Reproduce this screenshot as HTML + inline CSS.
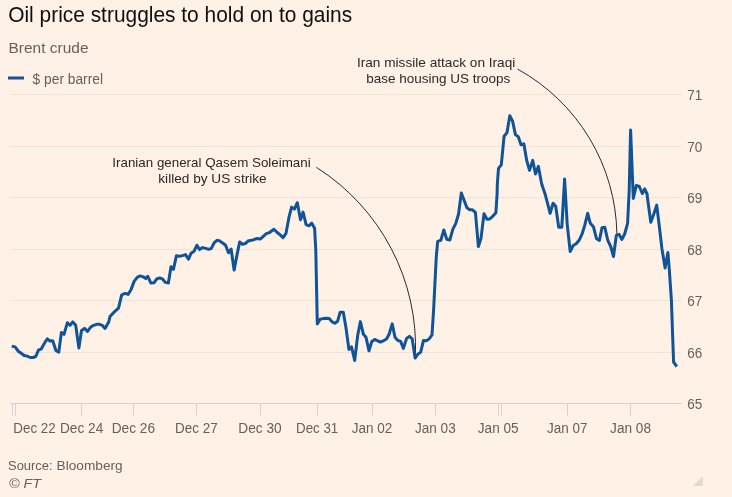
<!DOCTYPE html>
<html lang="en"><head><meta charset="utf-8"><title>Oil price struggles to hold on to gains</title>
<style>
html,body{margin:0;padding:0;background:#fff1e5;}
body{width:732px;height:497px;overflow:hidden;}
svg{display:block;font-family:"Liberation Sans",sans-serif;}
.t{fill:#66605c;font-size:14px;}
.a{fill:#2b2826;font-size:13.5px;}
</style></head><body>
<svg width="732" height="497" viewBox="0 0 732 497">
<rect width="732" height="497" fill="#fff1e5"/>
<text x="8.2" y="22.3" font-size="21.5" fill="#111010" textLength="344" lengthAdjust="spacingAndGlyphs">Oil price struggles to hold on to gains</text>
<text x="8.5" y="52.8" font-size="15.2" fill="#66605c" textLength="80" lengthAdjust="spacingAndGlyphs">Brent crude</text>
<rect x="8" y="76.5" width="16" height="3" fill="#0f5499"/>
<text x="32.6" y="83.8" class="t" textLength="70.4" lengthAdjust="spacingAndGlyphs">$ per barrel</text>
<line x1="10" x2="682" y1="94.5" y2="94.5" stroke="#f0e4da" stroke-width="1"/>
<text x="687.3" y="100.0" class="t" textLength="15" lengthAdjust="spacingAndGlyphs">71</text>
<line x1="10" x2="682" y1="146.5" y2="146.5" stroke="#f0e4da" stroke-width="1"/>
<text x="687.3" y="152.0" class="t" textLength="15" lengthAdjust="spacingAndGlyphs">70</text>
<line x1="10" x2="682" y1="197.5" y2="197.5" stroke="#f0e4da" stroke-width="1"/>
<text x="687.3" y="203.0" class="t" textLength="15" lengthAdjust="spacingAndGlyphs">69</text>
<line x1="10" x2="682" y1="249.5" y2="249.5" stroke="#f0e4da" stroke-width="1"/>
<text x="687.3" y="255.0" class="t" textLength="15" lengthAdjust="spacingAndGlyphs">68</text>
<line x1="10" x2="682" y1="300.5" y2="300.5" stroke="#f0e4da" stroke-width="1"/>
<text x="687.3" y="306.0" class="t" textLength="15" lengthAdjust="spacingAndGlyphs">67</text>
<line x1="10" x2="682" y1="352.5" y2="352.5" stroke="#f0e4da" stroke-width="1"/>
<text x="687.3" y="358.0" class="t" textLength="15" lengthAdjust="spacingAndGlyphs">66</text>
<line x1="10" x2="682" y1="403.5" y2="403.5" stroke="#d9cfcc" stroke-width="1"/>
<text x="687.3" y="409.0" class="t" textLength="15" lengthAdjust="spacingAndGlyphs">65</text>
<line x1="12.5" x2="12.5" y1="403.5" y2="415.5" stroke="#d9cfcc" stroke-width="1"/>
<line x1="15.5" x2="15.5" y1="403.5" y2="415.5" stroke="#d9cfcc" stroke-width="1"/>
<line x1="81.5" x2="81.5" y1="403.5" y2="415.5" stroke="#d9cfcc" stroke-width="1"/>
<line x1="133.5" x2="133.5" y1="403.5" y2="415.5" stroke="#d9cfcc" stroke-width="1"/>
<line x1="196.5" x2="196.5" y1="403.5" y2="415.5" stroke="#d9cfcc" stroke-width="1"/>
<line x1="260.5" x2="260.5" y1="403.5" y2="415.5" stroke="#d9cfcc" stroke-width="1"/>
<line x1="317.5" x2="317.5" y1="403.5" y2="415.5" stroke="#d9cfcc" stroke-width="1"/>
<line x1="372.5" x2="372.5" y1="403.5" y2="415.5" stroke="#d9cfcc" stroke-width="1"/>
<line x1="435.5" x2="435.5" y1="403.5" y2="415.5" stroke="#d9cfcc" stroke-width="1"/>
<line x1="498.5" x2="498.5" y1="403.5" y2="415.5" stroke="#d9cfcc" stroke-width="1"/>
<line x1="501.5" x2="501.5" y1="403.5" y2="415.5" stroke="#d9cfcc" stroke-width="1"/>
<line x1="567.5" x2="567.5" y1="403.5" y2="415.5" stroke="#d9cfcc" stroke-width="1"/>
<line x1="630.5" x2="630.5" y1="403.5" y2="415.5" stroke="#d9cfcc" stroke-width="1"/>
<text x="13.3" y="432.8" class="t" textLength="42.4" lengthAdjust="spacingAndGlyphs">Dec 22</text>
<text x="60" y="432.8" class="t" textLength="43.3" lengthAdjust="spacingAndGlyphs">Dec 24</text>
<text x="111.7" y="432.8" class="t" textLength="43.3" lengthAdjust="spacingAndGlyphs">Dec 26</text>
<text x="175" y="432.8" class="t" textLength="42.7" lengthAdjust="spacingAndGlyphs">Dec 27</text>
<text x="238.3" y="432.8" class="t" textLength="43.4" lengthAdjust="spacingAndGlyphs">Dec 30</text>
<text x="296" y="432.8" class="t" textLength="42.3" lengthAdjust="spacingAndGlyphs">Dec 31</text>
<text x="351.7" y="432.8" class="t" textLength="40.6" lengthAdjust="spacingAndGlyphs">Jan 02</text>
<text x="415" y="432.8" class="t" textLength="40.7" lengthAdjust="spacingAndGlyphs">Jan 03</text>
<text x="477.8" y="432.8" class="t" textLength="40.9" lengthAdjust="spacingAndGlyphs">Jan 05</text>
<text x="547" y="432.8" class="t" textLength="40.5" lengthAdjust="spacingAndGlyphs">Jan 07</text>
<text x="610.1" y="432.8" class="t" textLength="40.9" lengthAdjust="spacingAndGlyphs">Jan 08</text>
<path d="M316.4 167.4A213 213 0 0 1 415.4 356.5" fill="none" stroke="#262a33" stroke-width="1"/>
<path d="M517.6 69.1A192 192 0 0 1 616.9 234" fill="none" stroke="#262a33" stroke-width="1"/>
<text x="112.3" y="166.6" class="a" textLength="198.4" lengthAdjust="spacingAndGlyphs">Iranian general Qasem Soleimani</text>
<text x="158.3" y="182.6" class="a" textLength="108.4" lengthAdjust="spacingAndGlyphs">killed by US strike</text>
<text x="356.9" y="67" class="a" textLength="158.4" lengthAdjust="spacingAndGlyphs">Iran missile attack on Iraqi</text>
<text x="366.2" y="82.8" class="a" textLength="144.1" lengthAdjust="spacingAndGlyphs">base housing US troops</text>
<path d="M11.7 346.1 15.1 346.9 18.5 351.5 21.1 353.1 24.1 355.5 27.2 356.1 30.2 357.5 33.2 357.5 35.8 356.5 38.6 349.9 41.2 349.1 44.7 342.8 47.3 338.8 49.9 341.0 52.7 340.8 55.9 350.5 58.8 352.1 61.4 332.4 64.0 334.4 67.4 322.7 70.0 325.3 72.8 321.9 75.7 325.3 78.9 348.1 81.5 330.4 84.5 328.4 87.5 331.4 90.5 327.3 93.6 325.3 96.6 324.3 99.6 324.3 102.2 325.3 105.0 328.4 108.7 321.9 110.0 316.6 114.0 312.2 118.5 308.1 121.7 294.8 125.1 293.4 128.1 294.4 131.1 289.4 134.1 281.4 137.2 277.3 140.2 275.9 143.2 276.9 145.8 278.4 147.8 276.3 150.8 283.0 153.9 282.8 156.7 279.0 159.7 277.9 162.3 278.8 165.3 282.4 168.4 283.0 171.0 266.7 173.4 269.3 176.4 255.8 179.4 256.2 182.4 255.6 185.5 254.6 188.5 259.2 191.1 253.2 194.1 251.2 196.9 245.2 199.5 249.6 202.6 247.6 205.6 248.4 208.6 249.2 211.2 248.6 214.2 242.7 217.0 240.3 219.9 240.9 220.0 241.3 223.0 243.3 225.6 245.3 228.5 252.8 231.1 249.0 234.1 270.1 237.1 254.4 239.7 241.9 242.5 244.3 245.4 243.5 248.6 240.7 251.8 240.3 254.6 239.3 257.4 238.5 260.2 239.1 263.3 236.3 266.3 233.7 269.3 232.7 273.9 229.2 276.9 232.3 280.0 234.7 283.0 237.7 286.0 233.3 289.0 217.2 291.6 207.1 294.4 209.1 297.3 202.7 300.5 219.8 303.1 212.1 306.1 224.6 308.9 225.8 311.8 223.2 314.6 228.2 315.8 250.4 316.6 290.0 317.3 323.9 320.1 319.2 323.1 318.6 326.2 318.2 329.2 318.6 332.2 321.9 334.8 323.3 337.6 321.2 340.2 312.2 343.3 312.2 345.9 327.3 348.9 349.4 351.5 346.8 354.7 360.5 357.7 335.3 360.4 321.6 363.4 334.3 366.0 337.3 369.0 350.8 371.8 341.4 374.8 339.4 377.9 341.0 380.5 342.0 383.5 340.8 386.5 339.0 389.1 334.3 392.2 323.9 395.0 337.3 397.8 340.4 400.6 341.4 403.4 348.4 406.6 338.4 409.4 336.4 412.2 338.8 415.1 358.1 417.9 354.1 420.7 352.1 423.5 340.4 426.3 340.8 429.1 339.0 432.0 334.8 433.6 310.2 435.6 270.0 436.3 256.5 437.7 241.4 440.8 240.4 443.8 230.0 446.8 239.4 449.8 240.0 452.8 229.4 455.8 223.3 458.5 214.3 461.3 193.1 464.1 200.2 466.9 207.8 469.7 209.8 472.5 209.8 475.4 212.3 478.4 246.5 481.0 238.4 484.0 213.7 487.0 219.3 489.8 218.9 492.7 216.3 495.9 212.7 497.1 194.1 497.3 184.5 498.5 168.4 501.3 164.8 504.1 136.2 507.0 132.6 509.8 115.7 512.6 121.1 515.4 134.6 518.2 136.6 521.0 144.7 523.9 143.9 526.7 160.4 529.5 170.4 532.7 160.4 535.5 174.0 538.4 166.4 541.2 181.5 542.0 185.1 545.1 194.1 547.5 203.2 550.1 213.3 553.1 203.2 555.7 206.2 558.7 227.3 561.8 227.3 564.6 179.1 567.2 224.3 570.2 251.5 573.2 245.5 576.2 243.8 579.3 240.0 582.3 233.4 584.9 224.7 587.7 213.3 590.3 223.3 593.4 226.7 596.4 238.4 599.4 240.4 602.0 227.7 604.8 227.3 607.8 240.4 610.7 246.5 613.5 256.5 616.3 235.4 619.1 234.4 621.9 239.4 624.7 234.0 627.6 223.3 629.2 190.1 630.6 130.1 633.3 198.5 636.3 185.5 639.3 186.5 642.3 193.5 644.7 188.9 647.3 194.5 647.2 196.0 650.8 222.2 653.9 213.7 656.7 205.1 659.3 226.2 661.9 248.4 665.1 268.1 667.9 252.4 669.4 270.5 670.0 280.0 671.4 300.1 672.8 340.4 673.6 362.1 676.8 366.5" fill="none" stroke="#0f5499" stroke-width="3" stroke-linejoin="round" stroke-linecap="butt"/>
<text y="470.1" class="t" style="font-size:13.6px"><tspan x="8" textLength="44.6" lengthAdjust="spacingAndGlyphs">Source:</tspan> <tspan x="56.6" textLength="66.1" lengthAdjust="spacingAndGlyphs">Bloomberg</tspan></text>
<text x="9" y="488.1" class="t" style="font-size:13.5px" font-style="italic" textLength="32" lengthAdjust="spacingAndGlyphs">© FT</text>
<path d="M702.8 476V485.9H693Z" fill="#e3d8cd"/>
</svg></body></html>
